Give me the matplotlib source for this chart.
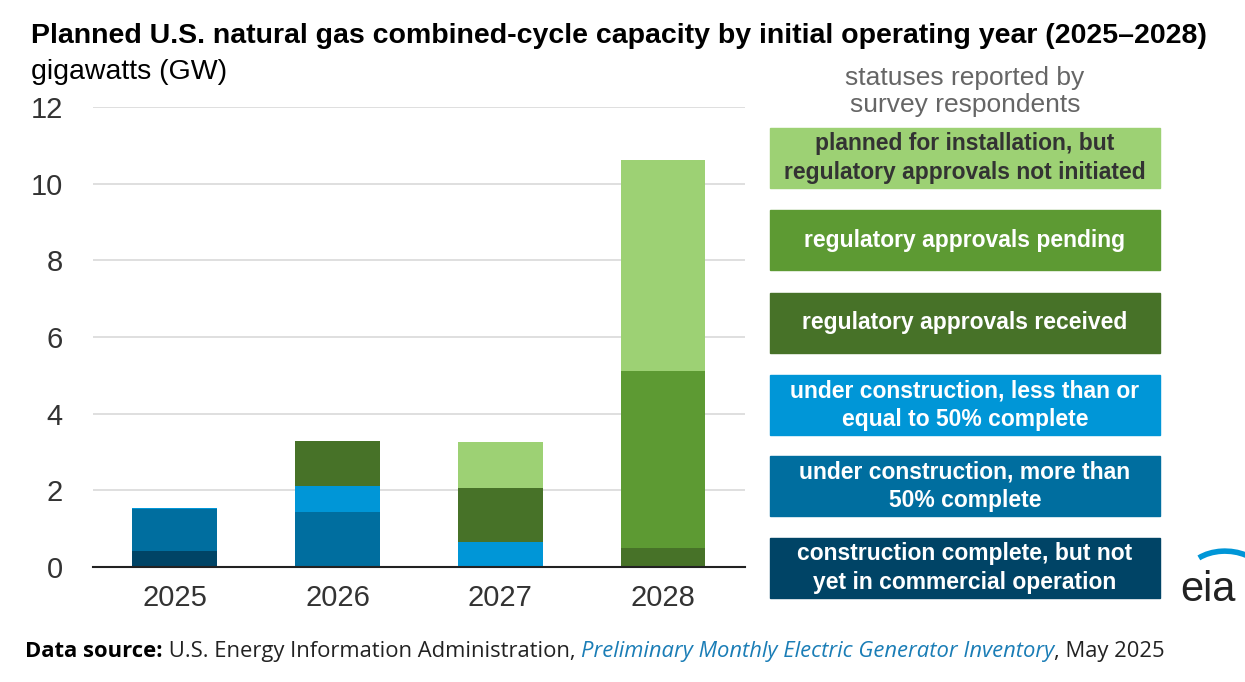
import matplotlib.pyplot as plt
import matplotlib.patches as mpatches
import numpy as np

years = ["2025", "2026", "2027", "2028"]
statuses = [
    "construction complete, but not\nyet in commercial operation",
    "under construction, more than\n50% complete",
    "under construction, less than or\nequal to 50% complete",
    "regulatory approvals received",
    "regulatory approvals pending",
    "planned for installation, but\nregulatory approvals not initiated",
]
colors = ["#004466", "#006e9f", "#0096d7", "#477228", "#5d9a33", "#9dd174"]
values = [
    [0.42, 0.00, 0.00, 0.00],
    [1.10, 1.44, 0.00, 0.00],
    [0.03, 0.67, 0.65, 0.00],
    [0.00, 1.18, 1.41, 0.50],
    [0.00, 0.00, 0.00, 4.62],
    [0.00, 0.00, 1.20, 5.51],
]

plt.rcParams["font.family"] = ["Liberation Sans", "DejaVu Sans"]
fig = plt.figure(figsize=(12.45, 6.82), dpi=100)
ax = fig.add_axes([0.075, 0.1686, 0.523, 0.6744])

x = np.arange(len(years))
bottom = np.zeros(len(years))
for vals, c in zip(values, colors):
    ax.bar(x, vals, 0.52, bottom=bottom, color=c, zorder=3)
    bottom += np.array(vals)

ax.set_ylim(0, 12)
ax.set_xlim(-0.5, 3.5)
ax.set_yticks(range(0, 13, 2))
ax.set_xticks(x)
ax.set_xticklabels(years)
ax.tick_params(axis="both", length=0, labelsize=21, colors="#333333")
ax.tick_params(axis="y", pad=22)
ax.tick_params(axis="x", pad=12)
ax.grid(axis="y", color="#d9d9d9", linewidth=1.2, zorder=0)
for s in ["top", "right", "left"]:
    ax.spines[s].set_visible(False)
ax.spines["bottom"].set_color("#222222")
ax.spines["bottom"].set_linewidth(1.5)
ax.spines["bottom"].set_zorder(4)

fig.text(0.025, 0.947, "Planned U.S. natural gas combined-cycle capacity by initial operating year (2025\u20132028)",
         fontsize=20.5, fontweight="bold", va="center")
fig.text(0.025, 0.895, "gigawatts (GW)", fontsize=20.5, va="center")

# legend boxes
fig.text(0.775, 0.866, "statuses reported by\nsurvey respondents", fontsize=19,
         color="#666666", ha="center", va="center", linespacing=1.15)
centers = [568, 486, 405, 323, 240, 158]
for lab, c, cy in zip(statuses, colors, centers):
    h = 60
    fig.patches.append(mpatches.Rectangle((770 / 1245, 1 - (cy + h / 2) / 682), 390 / 1245, h / 682,
                                          transform=fig.transFigure, color=c))
    tc = "#333333" if c == "#9dd174" else "white"
    fig.text(965 / 1245, 1 - cy / 682, lab, ha="center", va="center", fontsize=16.5,
             fontweight="bold", color=tc, linespacing=1.3)

fig.text(1208 / 1245, 1 - 590 / 682, "eia", fontsize=30, color="#222222", ha="center", va="center")
arc = mpatches.Arc((1225 / 1245, 1 - 575 / 682), 0.06, 0.07, theta1=60, theta2=130,
                   transform=fig.transFigure, color="#0096d7", linewidth=4)
fig.patches.append(arc)

# footer, pieces chained one after another
renderer = fig.canvas.get_renderer()
parts = [("Data source:", dict(fontweight="bold", color="black")),
         (" U.S. Energy Information Administration, ", dict(color="#222222")),
         ("Preliminary Monthly Electric Generator Inventory", dict(style="italic", color="#1a7db6")),
         (", May 2025", dict(color="#222222"))]
xpos = 25
for txt, kw in parts:
    t = fig.text(xpos / 1245, 0.045, txt, fontsize=15.8, va="center",
                 family=["Open Sans", "DejaVu Sans"], **kw)
    bb = t.get_window_extent(renderer)
    xpos = bb.x1

fig.savefig("out.png", dpi=100)
